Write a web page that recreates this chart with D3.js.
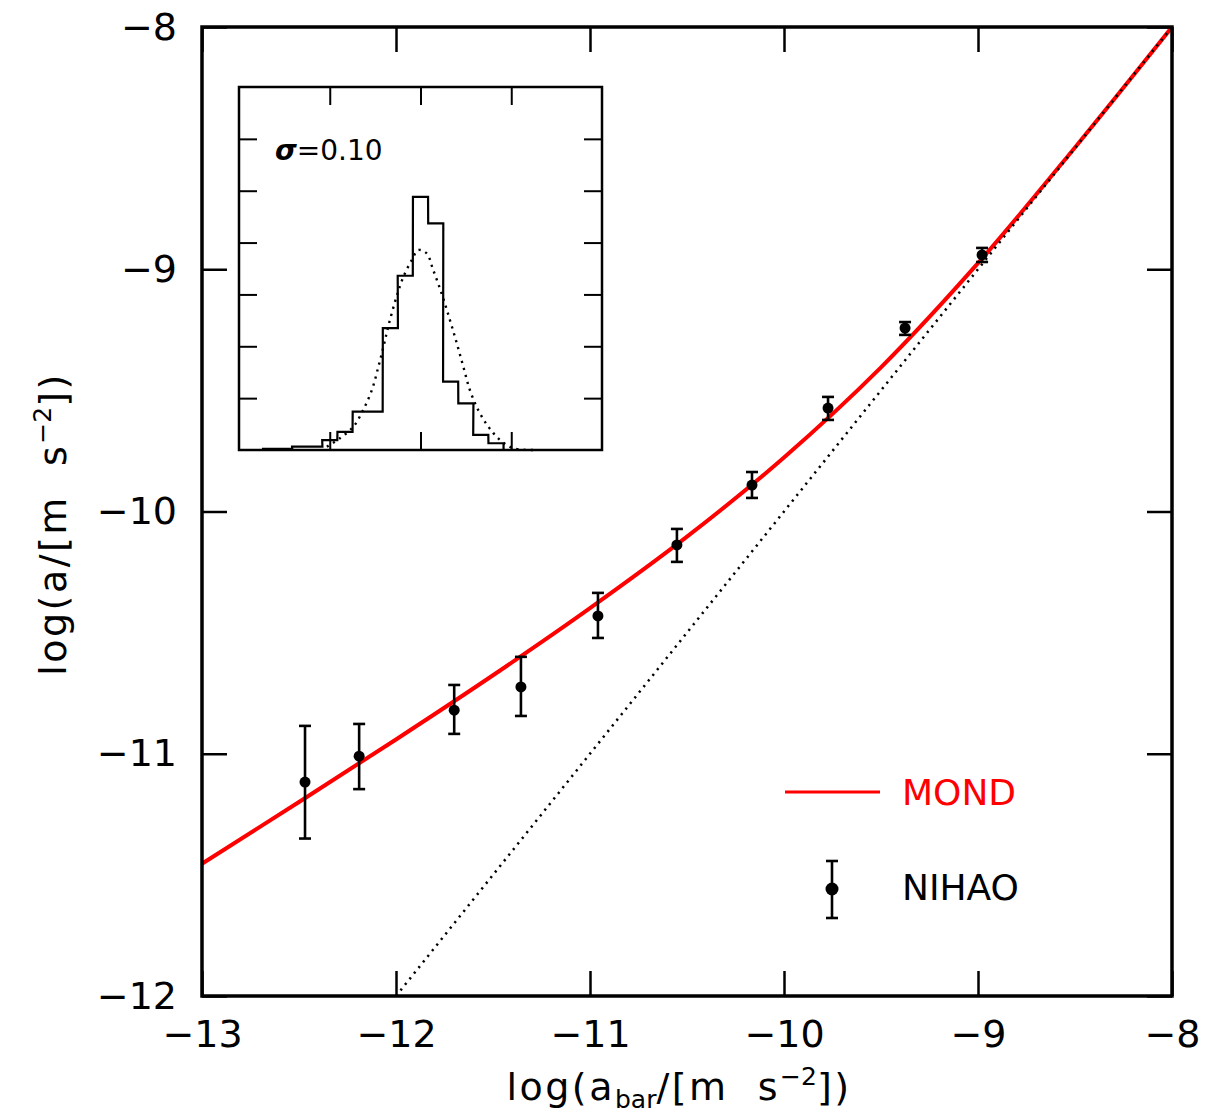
<!DOCTYPE html>
<html>
<head>
<meta charset="utf-8">
<script src="https://cdn.jsdelivr.net/npm/d3@7"></script>
<style>
html,body{margin:0;padding:0;background:#fff;}
svg{display:block;}
</style>
</head>
<body>
<svg id="chart" width="1229" height="1117"></svg>
<script>
// ---------- data ----------
const xTicks = [-13, -12, -11, -10, -9, -8];
const yTicks = [-12, -11, -10, -9, -8];

// NIHAO binned points: log gbar, log gobs, error low, error high
const nihaoX   = [-12.469, -12.190, -11.700, -11.356, -10.959, -10.552, -10.165, -9.773, -9.376, -8.979];
const nihaoY   = [-11.117, -11.010, -10.820, -10.724, -10.431, -10.138, -9.891, -9.573, -9.243, -8.941];
const nihaoLo  = [-11.350, -11.146, -10.918, -10.844, -10.522, -10.208, -9.944, -9.622, -9.271, -8.970];
const nihaoHi  = [-10.885, -10.877, -10.716, -10.600, -10.336, -10.072, -9.837, -9.527, -9.218, -8.912];

// MOND curve
const mondX = [-13, -12.5, -12, -11.5, -11, -10.5, -10, -9.5, -9, -8.5, -8];
const mondY = [-11.454, -11.199, -10.941, -10.676, -10.399, -10.104, -9.777, -9.405, -8.975, -8.497, -8.0];

// one-to-one dotted line
const unityX = [-12, -8];
const unityY = [-12, -8];

// inset histogram of residuals
const binCenters = [-0.416, -0.374, -0.333, -0.291, -0.250, -0.208, -0.166, -0.125, -0.083, -0.042, 0.000, 0.042, 0.083, 0.125, 0.166, 0.208];
const binHeights = [0.02, 0.02, 0.064, 0.064, 0.19, 0.35, 0.74, 0.74, 2.35, 3.36, 4.88, 4.37, 1.32, 0.90, 0.29, 0.13];
const binWidth = 0.0416;

// dotted gaussian in inset
const gaussX = [-0.258, -0.222, -0.185, -0.158, -0.134, -0.116, -0.102, -0.089, -0.066, -0.047, -0.024, -0.006, 0.017, 0.035, 0.058, 0.081, 0.100, 0.118, 0.136, 0.159, 0.187, 0.219, 0.256, 0.311];
const gaussY = [0.064, 0.226, 0.449, 0.771, 1.157, 1.606, 1.992, 2.378, 2.956, 3.342, 3.664, 3.856, 3.793, 3.471, 3.022, 2.507, 2.057, 1.606, 1.157, 0.771, 0.449, 0.193, 0.033, 0.0];

const insetXTicks = [-0.25, 0, 0.25];
const insetYTicks = [1, 2, 3, 4, 5, 6];

// ---------- drawing ----------
const svg = d3.select("#chart");
const FONT = "'DejaVu Sans', 'Liberation Sans', sans-serif";

const L = 202, R = 1172, T = 27, B = 996;
const x = d3.scaleLinear().domain([-13, -8]).range([L, R]);
const y = d3.scaleLinear().domain([-12, -8]).range([B, T]);

const fmt = d => d3.format("d")(d).replace("-", "\u2212");

function styleAxis(g, showLabels) {
  g.select(".domain").remove();
  g.selectAll(".tick line").attr("stroke", "#000").attr("stroke-width", 2.5);
  g.selectAll(".tick text")
    .attr("fill", "#000")
    .style("font-family", FONT)
    .style("font-size", "38px");
  if (!showLabels) g.selectAll(".tick text").remove();
}

svg.append("g").attr("transform", `translate(0,${B})`)
  .call(d3.axisBottom(x).tickValues(xTicks).tickSize(-25).tickPadding(24).tickFormat(fmt))
  .call(g => styleAxis(g, true));
svg.append("g").attr("transform", `translate(0,${T})`)
  .call(d3.axisTop(x).tickValues(xTicks).tickSize(-25).tickFormat(""))
  .call(g => styleAxis(g, false));
svg.append("g").attr("transform", `translate(${L},0)`)
  .call(d3.axisLeft(y).tickValues(yTicks).tickSize(-25).tickPadding(25).tickFormat(fmt))
  .call(g => styleAxis(g, true));
svg.append("g").attr("transform", `translate(${R},0)`)
  .call(d3.axisRight(y).tickValues(yTicks).tickSize(-25).tickFormat(""))
  .call(g => styleAxis(g, false));

// clip
svg.append("clipPath").attr("id", "clipMain")
  .append("rect").attr("x", L).attr("y", T).attr("width", R - L).attr("height", B - T);

const plot = svg.append("g").attr("clip-path", "url(#clipMain)");

// MOND curve
plot.append("path")
  .datum(mondX.map((d, i) => [d, mondY[i]]))
  .attr("d", d3.line().curve(d3.curveCatmullRom).x(d => x(d[0])).y(d => y(d[1])))
  .attr("fill", "none").attr("stroke", "#ff0000").attr("stroke-width", 4);

// unity dotted line (drawn over the red curve)
plot.append("path")
  .datum(unityX.map((d, i) => [d, unityY[i]]))
  .attr("d", d3.line().x(d => x(d[0])).y(d => y(d[1])))
  .attr("fill", "none").attr("stroke", "#000").attr("stroke-width", 2.5)
  .attr("stroke-dasharray", "2.2,5");

// NIHAO points
const pts = nihaoX.map((d, i) => ({x: d, y: nihaoY[i], lo: nihaoLo[i], hi: nihaoHi[i]}));
const pg = plot.append("g");
const cap = 6;
pts.forEach(p => {
  const cx = x(p.x);
  pg.append("line").attr("x1", cx).attr("x2", cx).attr("y1", y(p.lo)).attr("y2", y(p.hi))
    .attr("stroke", "#000").attr("stroke-width", 2.6);
  [p.lo, p.hi].forEach(v => {
    pg.append("line").attr("x1", cx - cap).attr("x2", cx + cap).attr("y1", y(v)).attr("y2", y(v))
      .attr("stroke", "#000").attr("stroke-width", 2.6);
  });
  pg.append("circle").attr("cx", cx).attr("cy", y(p.y)).attr("r", 5.5).attr("fill", "#000");
});

// frame
svg.append("rect").attr("x", L).attr("y", T).attr("width", R - L).attr("height", B - T)
  .attr("fill", "none").attr("stroke", "#000").attr("stroke-width", 3.5);

// axis titles
const xt = svg.append("text").attr("x", 679).attr("y", 1100).attr("text-anchor", "middle")
  .style("font-family", FONT).style("font-size", "38px").style("letter-spacing", "2.5px").attr("fill", "#000");
xt.append("tspan").text("log(a");
xt.append("tspan").attr("dy", 8).style("font-size", "25px").style("letter-spacing", "0px").text("bar");
xt.append("tspan").attr("dy", -8).text("/[m\u00a0\u00a0s");
xt.append("tspan").attr("dy", -15).style("font-size", "25px").style("letter-spacing", "0px").text("\u22122");
xt.append("tspan").attr("dy", 15).text("])");

const yt = svg.append("text").attr("transform", "translate(66,524) rotate(-90)").attr("text-anchor", "middle")
  .style("font-family", FONT).style("font-size", "38px").style("letter-spacing", "2.5px").attr("fill", "#000");
yt.append("tspan").text("log(a/[m\u00a0\u00a0s");
yt.append("tspan").attr("dy", -15).style("font-size", "25px").style("letter-spacing", "0px").text("\u22122");
yt.append("tspan").attr("dy", 15).text("])");

// legend
svg.append("line").attr("x1", 785).attr("x2", 880).attr("y1", 792).attr("y2", 792)
  .attr("stroke", "#ff0000").attr("stroke-width", 3);
svg.append("text").attr("x", 902).attr("y", 805).attr("fill", "#ff0000")
  .style("font-family", FONT).style("font-size", "36px").text("MOND");
const lg = svg.append("g");
lg.append("line").attr("x1", 832).attr("x2", 832).attr("y1", 861).attr("y2", 918).attr("stroke", "#000").attr("stroke-width", 2.6);
lg.append("line").attr("x1", 826).attr("x2", 838).attr("y1", 861).attr("y2", 861).attr("stroke", "#000").attr("stroke-width", 2.6);
lg.append("line").attr("x1", 826).attr("x2", 838).attr("y1", 918).attr("y2", 918).attr("stroke", "#000").attr("stroke-width", 2.6);
lg.append("circle").attr("cx", 832).attr("cy", 889).attr("r", 6.5).attr("fill", "#000");
svg.append("text").attr("x", 902).attr("y", 900).attr("fill", "#000")
  .style("font-family", FONT).style("font-size", "36px").text("NIHAO");

// ---------- inset ----------
const iL = 239, iR = 602, iT = 87, iB = 450;
const xi = d3.scaleLinear().domain([-0.5, 0.5]).range([iL, iR]);
const yi = d3.scaleLinear().domain([0, 7]).range([iB, iT]);
const inset = svg.append("g");

function styleInset(g) {
  g.select(".domain").remove();
  g.selectAll(".tick line").attr("stroke", "#000").attr("stroke-width", 2);
  g.selectAll(".tick text").remove();
}
inset.append("g").attr("transform", `translate(0,${iB})`)
  .call(d3.axisBottom(xi).tickValues(insetXTicks).tickSize(-18)).call(styleInset);
inset.append("g").attr("transform", `translate(0,${iT})`)
  .call(d3.axisTop(xi).tickValues(insetXTicks).tickSize(-18)).call(styleInset);
inset.append("g").attr("transform", `translate(${iL},0)`)
  .call(d3.axisLeft(yi).tickValues(insetYTicks).tickSize(-18)).call(styleInset);
inset.append("g").attr("transform", `translate(${iR},0)`)
  .call(d3.axisRight(yi).tickValues(insetYTicks).tickSize(-18)).call(styleInset);

// gaussian dotted
inset.append("path")
  .datum(gaussX.map((d, i) => [d, gaussY[i]]))
  .attr("d", d3.line().curve(d3.curveCatmullRom).x(d => xi(d[0])).y(d => yi(d[1])))
  .attr("fill", "none").attr("stroke", "#000").attr("stroke-width", 2.4)
  .attr("stroke-dasharray", "2.2,5");

// histogram step outline
const histPts = [];
binCenters.forEach((c, i) => {
  histPts.push([c - binWidth / 2, binHeights[i]]);
  histPts.push([c + binWidth / 2, binHeights[i]]);
});
histPts.push([binCenters[binCenters.length - 1] + binWidth / 2, 0]);
inset.append("path")
  .datum(histPts)
  .attr("d", d3.line().x(d => xi(d[0])).y(d => yi(d[1])))
  .attr("fill", "none").attr("stroke", "#000").attr("stroke-width", 2.2);

inset.append("rect").attr("x", iL).attr("y", iT).attr("width", iR - iL).attr("height", iB - iT)
  .attr("fill", "none").attr("stroke", "#000").attr("stroke-width", 2.5);

const st = inset.append("text").attr("x", 275).attr("y", 160)
  .style("font-family", FONT).style("font-size", "28px").attr("fill", "#000");
st.append("tspan").style("font-style", "italic").style("font-weight", "bold").text("\u03c3");
st.append("tspan").text("=0.10");
</script>
</body>
</html>
